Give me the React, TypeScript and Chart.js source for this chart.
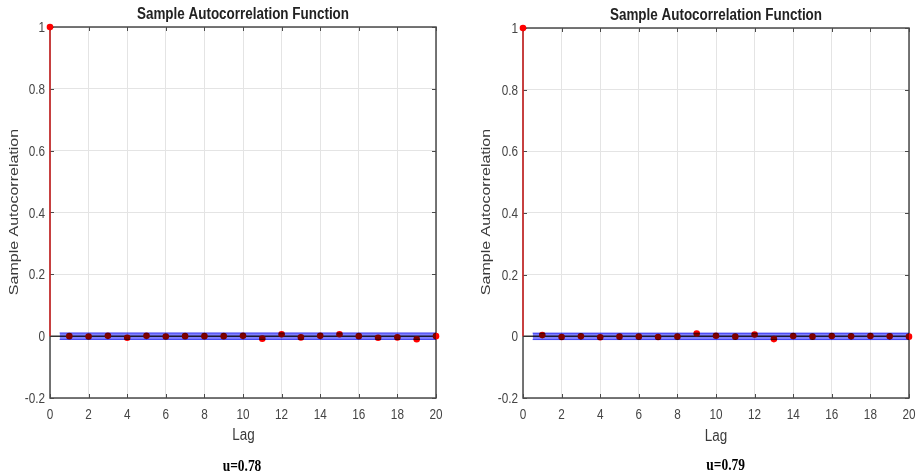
import React, { useEffect, useRef } from "react";
import { Chart, registerables } from "chart.js";

// ---------- data ----------
const LAGS = [0, 1, 2, 3, 4, 5, 6, 7, 8, 9, 10, 11, 12, 13, 14, 15, 16, 17, 18, 19, 20];
const ACF_U078 = [1, 0.0, -0.001, 0.001, -0.005, 0.001, -0.001, 0.0, 0.0, 0.0, 0.001, -0.008, 0.006, -0.004, 0.001, 0.006, 0.0, -0.005, -0.004, -0.01, 0.0];
const ACF_U079 = [1, 0.004, -0.002, 0.0, -0.003, -0.001, -0.001, -0.002, -0.001, 0.009, 0.002, -0.001, 0.006, -0.009, 0.001, -0.001, 0.001, 0.0, 0.001, 0.0, -0.001];
const CONF_UPPER = 0.0105;
const CONF_LOWER = -0.0105;
const BAND_START = 0.5;
const BAND_END = 20;
const X_TICKS = [0, 2, 4, 6, 8, 10, 12, 14, 16, 18, 20];
const X_TICK_LABELS = ["0", "2", "4", "6", "8", "10", "12", "14", "16", "18", "20"];
const Y_TICKS = [-0.2, 0, 0.2, 0.4, 0.6, 0.8, 1];
const Y_TICK_LABELS = ["-0.2", "0", "0.2", "0.4", "0.6", "0.8", "1"];
const TITLE = "Sample Autocorrelation Function";
const Y_LABEL = "Sample Autocorrelation";
const X_LABEL = "Lag";
const CAPTION_LEFT = "u=0.78";
const CAPTION_RIGHT = "u=0.79";

// ---------- blend plugin (registered before Filler so fill also blends) ----------
const multiplyPlugin = {
  id: "multiplyBlend",
  beforeDatasetDraw(chart: any, args: any) {
    const ds: any = chart.data.datasets[args.index];
    if (ds && ds.blend === "multiply") {
      chart.ctx.save();
      chart.ctx.globalCompositeOperation = "multiply";
    }
  },
  afterDatasetDraw(chart: any, args: any) {
    const ds: any = chart.data.datasets[args.index];
    if (ds && ds.blend === "multiply") chart.ctx.restore();
  },
};
Chart.register(multiplyPlugin as any, ...registerables);

const SANS = '"Liberation Sans", Arial, sans-serif';
const SERIF = '"Liberation Serif", "Times New Roman", serif';
const SX = 0.84;

function drawText(ctx: CanvasRenderingContext2D, text: string, x: number, y: number, font: string, color: string, align: CanvasTextAlign) {
  ctx.save();
  ctx.translate(x, y);
  ctx.scale(SX, 1);
  ctx.font = font;
  ctx.fillStyle = color;
  ctx.textAlign = align;
  ctx.textBaseline = "alphabetic";
  ctx.fillText(text, 0, 0);
  ctx.restore();
}

type Geo = {
  w: number; h: number; left: number;
  l: number; t: number; r: number; b: number;
  titleX: number; titleY: number;
  yLabelX: number; yLabelY: number;
  xTickY: number; lagX: number; lagY: number;
  capX: number; capY: number;
};

const GEO_LEFT: Geo = {
  w: 460, h: 475, left: 0, l: 50, t: 27, r: 436, b: 398,
  titleX: 243, titleY: 18.5, yLabelX: 14, yLabelY: 212,
  xTickY: 418.5, lagX: 243.5, lagY: 440, capX: 242, capY: 471,
};
const GEO_RIGHT: Geo = {
  w: 459, h: 475, left: 460, l: 63, t: 28, r: 449, b: 398,
  titleX: 256, titleY: 19.5, yLabelX: 26.5, yLabelY: 212,
  xTickY: 419.3, lagX: 256, lagY: 441, capX: 265.7, capY: 469.5,
};

function Panel({ values, caption, geo }: { values: number[]; caption: string; geo: Geo }) {
  const ref = useRef<HTMLCanvasElement | null>(null);
  useEffect(() => {
    const canvas = ref.current;
    if (!canvas) return;

    const stems: any[] = [];
    LAGS.forEach((lag, i) => {
      stems.push({ x: lag, y: 0 });
      stems.push({ x: lag, y: values[i] });
      stems.push({ x: lag, y: null });
    });
    const markers = LAGS.map((lag, i) => ({ x: lag, y: values[i] }));

    const decor = {
      id: "decor",
      beforeDatasetsDraw(chart: any) {
        const { ctx, chartArea: a, scales } = chart;
        ctx.save();
        ctx.strokeStyle = "#4a4a4a";
        ctx.lineWidth = 1.5;
        ctx.strokeRect(a.left, a.top, a.right - a.left, a.bottom - a.top);
        ctx.lineWidth = 1;
        ctx.beginPath();
        X_TICKS.forEach((v) => {
          const px = Math.round(scales.x.getPixelForValue(v)) + 0.5;
          ctx.moveTo(px, a.top); ctx.lineTo(px, a.top + 4);
          ctx.moveTo(px, a.bottom); ctx.lineTo(px, a.bottom - 4);
        });
        Y_TICKS.forEach((v) => {
          const py = Math.round(scales.y.getPixelForValue(v)) + 0.5;
          ctx.moveTo(a.left, py); ctx.lineTo(a.left + 4, py);
          ctx.moveTo(a.right, py); ctx.lineTo(a.right - 4, py);
        });
        ctx.stroke();
        ctx.restore();
      },
      afterDraw(chart: any) {
        const { ctx, chartArea: a, scales } = chart;
        const tickFont = `14px ${SANS}`;
        X_TICKS.forEach((v, i) => {
          drawText(ctx, X_TICK_LABELS[i], scales.x.getPixelForValue(v), geo.xTickY, tickFont, "#454545", "center");
        });
        Y_TICKS.forEach((v, i) => {
          drawText(ctx, Y_TICK_LABELS[i], a.left - 5, scales.y.getPixelForValue(v) + 5, tickFont, "#454545", "right");
        });
        drawText(ctx, TITLE, geo.titleX, geo.titleY, `bold 16px ${SANS}`, "#222222", "center");
        drawText(ctx, X_LABEL, geo.lagX, geo.lagY, `16px ${SANS}`, "#3a3a3a", "center");
        drawText(ctx, caption, geo.capX, geo.capY, `bold 16px ${SERIF}`, "#000000", "center");
        // rotated y label
        ctx.save();
        ctx.translate(geo.yLabelX, geo.yLabelY);
        ctx.rotate(-Math.PI / 2);
        ctx.scale(1, SX);
        ctx.font = `16px ${SANS}`;
        ctx.fillStyle = "#3a3a3a";
        ctx.textAlign = "center";
        ctx.textBaseline = "middle";
        ctx.fillText(Y_LABEL, 0, 0);
        ctx.restore();
      },
    };

    const chart = new Chart(canvas, {
      type: "line",
      data: {
        datasets: [
          {
            label: "upper",
            data: [{ x: BAND_START, y: CONF_UPPER }, { x: BAND_END, y: CONF_UPPER }],
            fill: "+1",
            backgroundColor: "rgb(128,128,255)",
            borderColor: "rgb(85,85,240)",
            borderWidth: 1,
            pointRadius: 0,
            order: 1,
            blend: "multiply",
          } as any,
          {
            label: "lower",
            data: [{ x: BAND_START, y: CONF_LOWER }, { x: BAND_END, y: CONF_LOWER }],
            fill: false,
            borderColor: "rgb(85,85,240)",
            borderWidth: 1,
            pointRadius: 0,
            order: 0,
            blend: "multiply",
          } as any,
          {
            label: "acf",
            data: markers,
            showLine: false,
            pointRadius: 3.3,
            pointBackgroundColor: "#ff0000",
            pointBorderColor: "#ff0000",
            pointBorderWidth: 0,
            clip: false,
            order: 2,
          } as any,
          {
            label: "stems",
            data: stems,
            borderColor: "#ff2020",
            borderWidth: 1.2,
            pointRadius: 0,
            spanGaps: false,
            clip: false,
            order: 3,
          } as any,
          {
            label: "baseline",
            data: [{ x: 0, y: 0 }, { x: 20, y: 0 }],
            borderColor: "#333333",
            borderWidth: 1.5,
            pointRadius: 0,
            order: 4,
          } as any,
        ],
      },
      options: {
        responsive: false,
        animation: false,
        devicePixelRatio: 1,
        parsing: true as any,
        layout: { padding: { left: 0, top: geo.t, right: geo.w - geo.r, bottom: 0 } },
        plugins: { legend: { display: false }, tooltip: { enabled: false }, title: { display: false } },
        elements: { line: { tension: 0 } },
        scales: {
          x: {
            type: "linear",
            min: 0,
            max: 20,
            afterBuildTicks: (s: any) => { s.ticks = X_TICKS.map((v) => ({ value: v })); },
            afterFit: (s: any) => { s.height = geo.h - geo.b; s.paddingLeft = 0; s.paddingRight = 0; },
            ticks: { display: false },
            grid: { color: "#e4e4e4", lineWidth: 1, drawTicks: false },
            border: { display: false },
          },
          y: {
            type: "linear",
            min: -0.2,
            max: 1,
            afterBuildTicks: (s: any) => { s.ticks = Y_TICKS.map((v) => ({ value: v })); },
            afterFit: (s: any) => { s.width = geo.l; s.paddingTop = 0; s.paddingBottom = 0; },
            ticks: { display: false },
            grid: { color: "#e4e4e4", lineWidth: 1, drawTicks: false },
            border: { display: false },
          },
        } as any,
      },
      plugins: [decor as any],
    });
    return () => chart.destroy();
  }, []);

  return (
    <div style={{ position: "absolute", left: geo.left, top: 0, width: geo.w, height: geo.h }}>
      <canvas ref={ref} width={geo.w} height={geo.h} style={{ display: "block", width: geo.w, height: geo.h }} />
    </div>
  );
}

export default function App() {
  return (
    <div style={{ position: "absolute", left: 0, top: 0, width: 919, height: 475, background: "#ffffff", overflow: "hidden" }}>
      <Panel values={ACF_U078} caption={CAPTION_LEFT} geo={GEO_LEFT} />
      <Panel values={ACF_U079} caption={CAPTION_RIGHT} geo={GEO_RIGHT} />
    </div>
  );
}
